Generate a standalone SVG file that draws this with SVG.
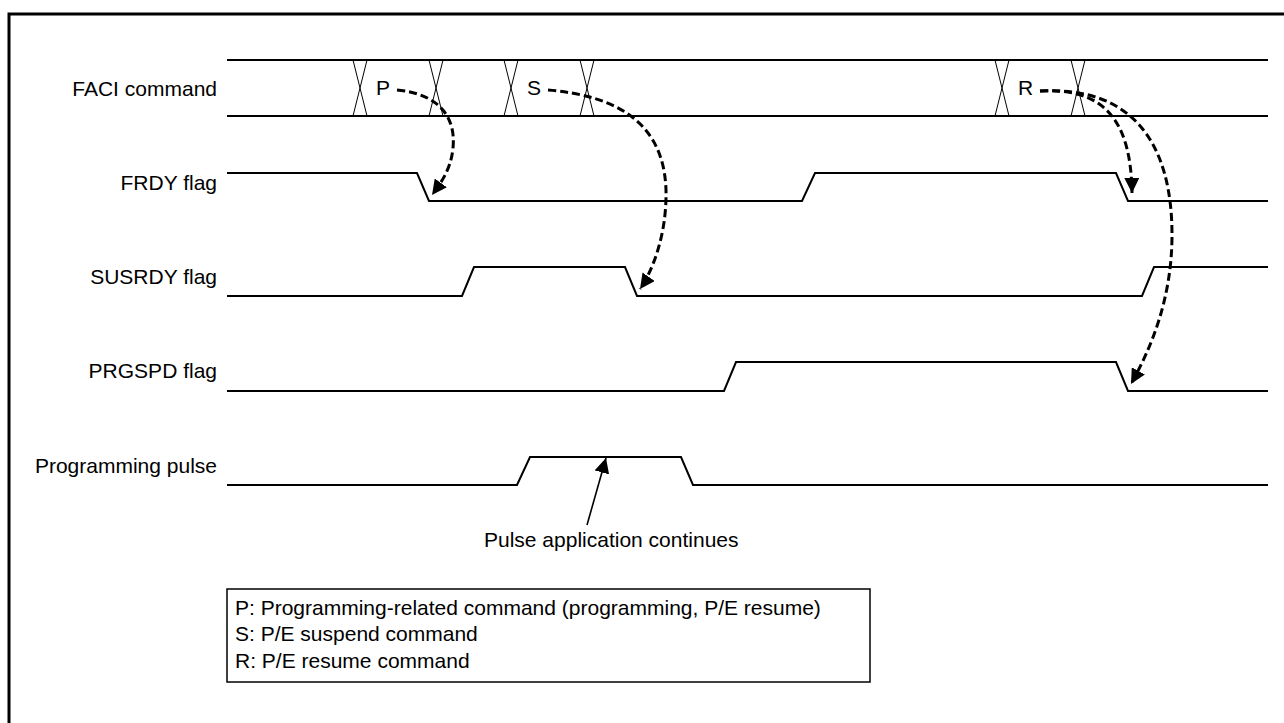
<svg xmlns="http://www.w3.org/2000/svg" width="1284" height="723" viewBox="0 0 1284 723">
<style>
.lbl{font-family:"Liberation Sans",Arial,sans-serif;font-size:21px;fill:#000}
.sig{fill:none;stroke:#000;stroke-width:2}
.x{fill:none;stroke:#000;stroke-width:1}
.dash{fill:none;stroke:#000;stroke-width:3;stroke-dasharray:8 4}
.solid{fill:none;stroke:#000;stroke-width:1.6}
</style>
<defs>
<marker id="ah" markerUnits="userSpaceOnUse" markerWidth="15" markerHeight="15" viewBox="0 0 15 15" refX="15" refY="7.5" orient="auto">
<path d="M0,0 L15,7.5 L0,15 z" fill="#000"/>
</marker>
</defs>
<rect width="1284" height="723" fill="#fff"/>
<path d="M9,740 L9,14 L1300,14" fill="none" stroke="#000" stroke-width="3"/>

<g id="faci">
<text class="lbl" x="217" y="96" text-anchor="end">FACI command</text>
<line class="sig" x1="227" y1="60" x2="1268" y2="60"/>
<line class="sig" x1="227" y1="116" x2="1268" y2="116"/>
<path class="x" d="M353,60 L367,116 M367,60 L353,116 M429,60 L443,116 M443,60 L429,116 M504,60 L518,116 M518,60 L504,116 M580,60 L594,116 M594,60 L580,116 M995,60 L1009,116 M1009,60 L995,116 M1071,60 L1085,116 M1085,60 L1071,116"/>
<text class="lbl" x="376" y="95">P</text>
<text class="lbl" x="527" y="95">S</text>
<text class="lbl" x="1018" y="95">R</text>
</g>

<g id="frdy">
<text class="lbl" x="217" y="190" text-anchor="end">FRDY flag</text>
<polyline class="sig" points="227,173 417,173 429,201 802,201 815,173 1116,173 1128,201 1268,201"/>
</g>

<g id="susrdy">
<text class="lbl" x="217" y="284" text-anchor="end">SUSRDY flag</text>
<polyline class="sig" points="227,296 462,296 474,267 625,267 637,296 1142,296 1154,267 1268,267"/>
</g>

<g id="prgspd">
<text class="lbl" x="217" y="378" text-anchor="end">PRGSPD flag</text>
<polyline class="sig" points="227,391 724,391 736,362 1116,362 1128,391 1268,391"/>
</g>

<g id="pulse">
<text class="lbl" x="217" y="473" text-anchor="end">Programming pulse</text>
<polyline class="sig" points="227,485 517,485 530,457 681,457 693,485 1268,485"/>
</g>

<g id="note">
<text class="lbl" x="484" y="547">Pulse application continues</text>
</g>

<g id="legend">
<rect x="227" y="589" width="643" height="93" fill="#fff" stroke="#000" stroke-width="1.5"/>
<text class="lbl" x="235" y="615">P: Programming-related command (programming, P/E resume)</text>
<text class="lbl" x="235" y="641">S: P/E suspend command</text>
<text class="lbl" x="235" y="668">R: P/E resume command</text>
</g>

<g id="connectors">
<path class="dash" marker-end="url(#ah)" d="M397,90 C440,94 456,118 453,148 C451,170 440,184 432,195"/>
<path class="dash" marker-end="url(#ah)" d="M548,90 C620,96 664,125 666,190 C667,235 652,272 640,289"/>
<path class="dash" marker-end="url(#ah)" d="M1040,91 C1100,88 1131,115 1132,193"/>
<path class="dash" marker-end="url(#ah)" d="M1040,91 C1130,86 1172,140 1172,235 C1172,300 1150,350 1131,384"/>
<path class="solid" marker-end="url(#ah)" d="M587,525 L606,458"/>
</g>
</svg>
